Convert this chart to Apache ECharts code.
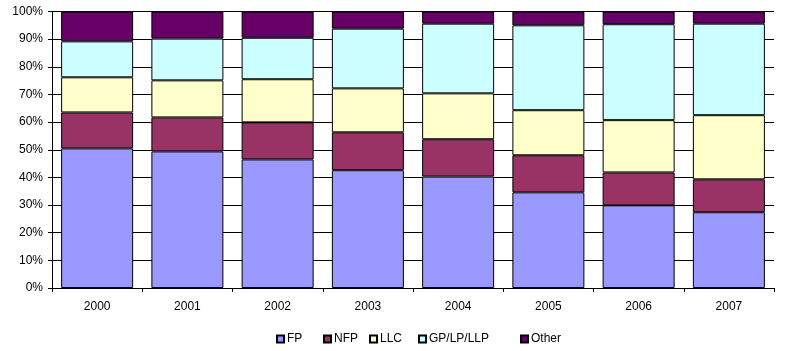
<!DOCTYPE html>
<html>
<head>
<meta charset="utf-8">
<script src="https://cdn.jsdelivr.net/npm/echarts@6/dist/echarts.min.js"></script>
<style>
html, body { margin: 0; padding: 0; background: #fff; }
#chart1 { width: 786px; height: 351px; }
</style>
</head>
<body>
<div id="chart1"></div>
<script>
// 年份
var years = ['2000', '2001', '2002', '2003', '2004', '2005', '2006', '2007'];
// 各类占比 (%)
var fp    = [50.5, 49.4, 46.5, 42.6, 40.3, 34.6, 29.9, 27.4];
var nfp   = [13.0, 12.3, 13.4, 13.7, 13.5, 13.4, 11.9, 11.9];
var llc   = [12.7, 13.4, 15.6, 15.9, 16.6, 16.3, 18.9, 23.2];
var gp    = [13.0, 15.1, 15.0, 21.6, 25.2, 30.7, 34.7, 33.1];
var other = [10.8,  9.8,  9.5,  6.2,  4.4,  5.0,  4.6,  4.4];

var names  = ['FP', 'NFP', 'LLC', 'GP/LP/LLP', 'Other'];
var colors = ['#9999FF', '#993366', '#FFFFCC', '#CCFFFF', '#660066'];
var values = [fp, nfp, llc, gp, other];
var legendLeft = [276, 323, 369, 418, 520];

var font = 'Liberation Sans, Arial, sans-serif';

var myChart = echarts.init(document.getElementById('chart1'));
myChart.setOption({
    animation: false,
    textStyle: { fontFamily: font },
    // 图例
    legend: names.map(function (n, i) {
        return {
            data: [{ name: n, icon: 'rect' }],
            left: legendLeft[i],
            top: 333,
            padding: 0,
            itemWidth: 7,
            itemHeight: 7,
            itemGap: 5,
            textStyle: { fontFamily: font, fontSize: 12, color: '#000', padding: [0, 0, 0, -2] }
        };
    }),
    grid: { left: 52, right: 12, top: 11.5, bottom: 63 },
    // x轴
    xAxis: {
        type: 'category',
        data: years,
        axisLine: { lineStyle: { color: '#000', width: 1 } },
        axisTick: { show: true, length: 4, lineStyle: { color: '#000' } },
        axisLabel: { color: '#000', fontSize: 12, margin: 13, fontFamily: font }
    },
    // y轴
    yAxis: {
        type: 'value',
        min: 0,
        max: 100,
        interval: 10,
        axisLine: { show: true, lineStyle: { color: '#000', width: 1 } },
        axisTick: { show: true, length: 4, lineStyle: { color: '#000' } },
        axisLabel: { color: '#000', fontSize: 12, margin: 9, fontFamily: font, formatter: '{value}%' },
        splitLine: { show: true, lineStyle: { color: '#000', width: 1 } }
    },
    // 数据
    series: names.map(function (n, i) {
        return {
            name: n,
            type: 'bar',
            stack: 'total',
            barWidth: 72,
            data: values[i],
            itemStyle: {
                color: colors[i],
                borderColor: '#000',
                borderWidth: 1
            }
        };
    })
});
</script>
</body>
</html>
